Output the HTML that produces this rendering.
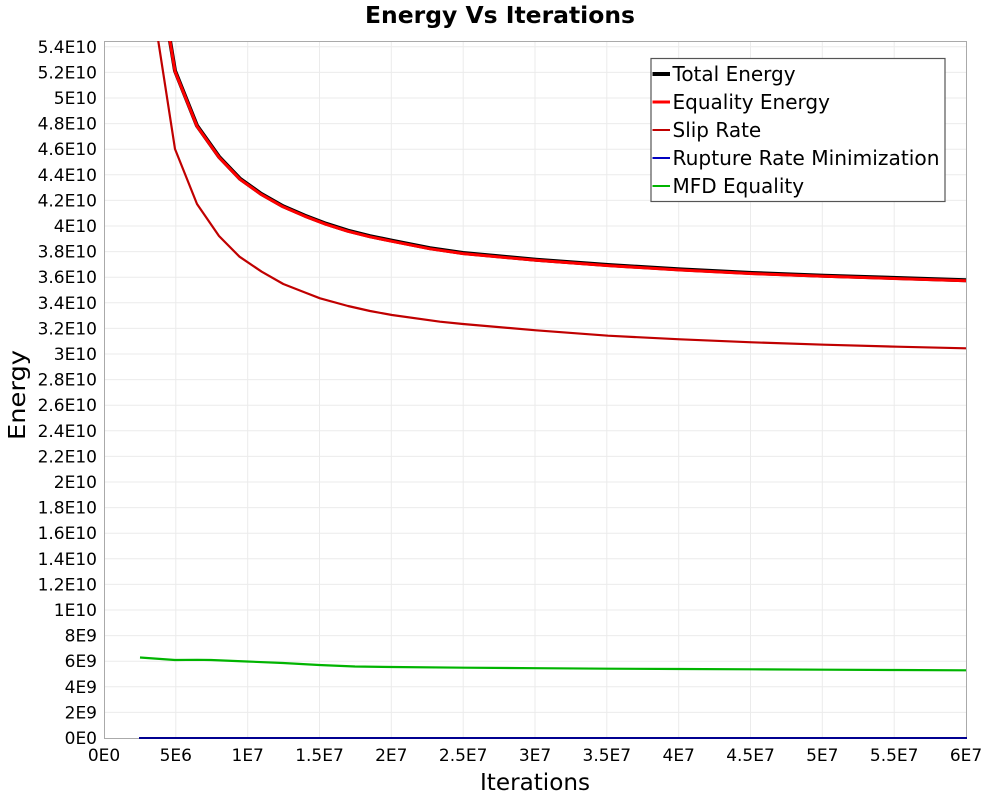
<!DOCTYPE html>
<html><head><meta charset="utf-8"><style>
html,body{margin:0;padding:0;background:#fff;}
svg{display:block;font-family:"DejaVu Sans","Liberation Sans",sans-serif;}
</style></head><body>
<svg width="1000" height="800" viewBox="0 0 1000 800" xmlns="http://www.w3.org/2000/svg">
<rect x="0" y="0" width="1000" height="800" fill="#fff"/>
<text x="500" y="23" font-size="23.5" font-weight="bold" text-anchor="middle" textLength="270" lengthAdjust="spacingAndGlyphs">Energy Vs Iterations</text>
<defs><clipPath id="pc"><rect x="104" y="41" width="863" height="699"/></clipPath></defs>
<g stroke="#ebebeb" stroke-width="1">
<line x1="104" x2="967" y1="712.4" y2="712.4"/><line x1="104" x2="967" y1="686.8" y2="686.8"/><line x1="104" x2="967" y1="661.2" y2="661.2"/><line x1="104" x2="967" y1="635.6" y2="635.6"/><line x1="104" x2="967" y1="610" y2="610"/><line x1="104" x2="967" y1="584.4" y2="584.4"/><line x1="104" x2="967" y1="558.8" y2="558.8"/><line x1="104" x2="967" y1="533.2" y2="533.2"/><line x1="104" x2="967" y1="507.6" y2="507.6"/><line x1="104" x2="967" y1="482" y2="482"/><line x1="104" x2="967" y1="456.4" y2="456.4"/><line x1="104" x2="967" y1="430.8" y2="430.8"/><line x1="104" x2="967" y1="405.2" y2="405.2"/><line x1="104" x2="967" y1="379.6" y2="379.6"/><line x1="104" x2="967" y1="354" y2="354"/><line x1="104" x2="967" y1="328.4" y2="328.4"/><line x1="104" x2="967" y1="302.8" y2="302.8"/><line x1="104" x2="967" y1="277.2" y2="277.2"/><line x1="104" x2="967" y1="251.6" y2="251.6"/><line x1="104" x2="967" y1="226" y2="226"/><line x1="104" x2="967" y1="200.4" y2="200.4"/><line x1="104" x2="967" y1="174.8" y2="174.8"/><line x1="104" x2="967" y1="149.2" y2="149.2"/><line x1="104" x2="967" y1="123.6" y2="123.6"/><line x1="104" x2="967" y1="98" y2="98"/><line x1="104" x2="967" y1="72.4" y2="72.4"/><line x1="104" x2="967" y1="46.8" y2="46.8"/>
<line y1="41" y2="738" x1="175.8" x2="175.8"/><line y1="41" y2="738" x1="247.7" x2="247.7"/><line y1="41" y2="738" x1="319.5" x2="319.5"/><line y1="41" y2="738" x1="391.3" x2="391.3"/><line y1="41" y2="738" x1="463.2" x2="463.2"/><line y1="41" y2="738" x1="535" x2="535"/><line y1="41" y2="738" x1="606.8" x2="606.8"/><line y1="41" y2="738" x1="678.7" x2="678.7"/><line y1="41" y2="738" x1="750.5" x2="750.5"/><line y1="41" y2="738" x1="822.3" x2="822.3"/><line y1="41" y2="738" x1="894.2" x2="894.2"/>
</g>
<rect x="104.5" y="41.5" width="862" height="697" fill="none" stroke="#aaaaaa" stroke-width="1"/>
<g clip-path="url(#pc)" fill="none" stroke-linejoin="round">
<polyline stroke="#00b400" stroke-width="2.2" points="140,657.5 175,660 197,659.8 211,660 247,661.5 283,663 319,665 355,666.5 392,667 464,667.7 536,668.2 608,668.7 680,669 752,669.3 825,669.7 897,670 966,670.3"/>
<polyline stroke="#c00000" stroke-width="2.2" points="140,-77 175,149 197,204 219,236 239.5,256.7 261.7,271.7 283.3,284 305,292.5 320,298.3 348,306 370,311 392,315 440,321.7 463,324 536,330.3 608,335.7 680,339.3 752,342.3 824,344.7 897,346.7 966,348.3"/>
<polyline stroke="#000" stroke-width="4" transform="translate(0,-0.3)" points="140,-139 175,71 197,126 219,157 240,179 261,194 283,206.5 305,216 326,224 348,231 370,236.5 392,241 430,248.5 463,253.3 536,260 608,265.3 680,269.7 752,273.3 824,276 897,278.3 966,280.5"/>
<polyline stroke="#ff0000" stroke-width="3" transform="translate(0,0.3)" points="140,-139 175,71 197,126 219,157 240,179 261,194 283,206.5 305,216 326,224 348,231 370,236.5 392,241 430,248.5 463,253.3 536,260 608,265.3 680,269.7 752,273.3 824,276 897,278.3 966,280.5"/>
</g>
<line x1="139" x2="967" y1="738" y2="738" stroke="#000090" stroke-width="2"/>
<g font-size="17" text-anchor="end" fill="#000">
<text x="97" y="744">0E0</text><text x="97" y="718.4">2E9</text><text x="97" y="692.8">4E9</text><text x="97" y="667.2">6E9</text><text x="97" y="641.6">8E9</text><text x="97" y="616">1E10</text><text x="97" y="590.4">1.2E10</text><text x="97" y="564.8">1.4E10</text><text x="97" y="539.2">1.6E10</text><text x="97" y="513.6">1.8E10</text><text x="97" y="488">2E10</text><text x="97" y="462.4">2.2E10</text><text x="97" y="436.8">2.4E10</text><text x="97" y="411.2">2.6E10</text><text x="97" y="385.6">2.8E10</text><text x="97" y="360">3E10</text><text x="97" y="334.4">3.2E10</text><text x="97" y="308.8">3.4E10</text><text x="97" y="283.2">3.6E10</text><text x="97" y="257.6">3.8E10</text><text x="97" y="232">4E10</text><text x="97" y="206.4">4.2E10</text><text x="97" y="180.8">4.4E10</text><text x="97" y="155.2">4.6E10</text><text x="97" y="129.6">4.8E10</text><text x="97" y="104">5E10</text><text x="97" y="78.4">5.2E10</text><text x="97" y="52.8">5.4E10</text>
</g>
<g font-size="17" text-anchor="middle" fill="#000">
<text x="104" y="761">0E0</text><text x="175.8" y="761">5E6</text><text x="247.7" y="761">1E7</text><text x="319.5" y="761">1.5E7</text><text x="391.3" y="761">2E7</text><text x="463.2" y="761">2.5E7</text><text x="535" y="761">3E7</text><text x="606.8" y="761">3.5E7</text><text x="678.7" y="761">4E7</text><text x="750.5" y="761">4.5E7</text><text x="822.3" y="761">5E7</text><text x="894.2" y="761">5.5E7</text><text x="966" y="761">6E7</text>
</g>
<text x="535" y="790" font-size="23.5" text-anchor="middle" textLength="110" lengthAdjust="spacingAndGlyphs">Iterations</text>
<text transform="translate(25,395) rotate(-90)" x="0" y="0" font-size="23.5" text-anchor="middle" textLength="90" lengthAdjust="spacingAndGlyphs">Energy</text>
<rect x="651" y="58.5" width="294" height="143" fill="#fff" stroke="#555" stroke-width="1.2"/>
<line x1="652.5" x2="670" y1="74" y2="74" stroke="#000" stroke-width="4"/>
<line x1="652.5" x2="670" y1="102" y2="102" stroke="#ff0000" stroke-width="3"/>
<line x1="652.5" x2="670" y1="130" y2="130" stroke="#c00000" stroke-width="2"/>
<line x1="652.5" x2="670" y1="158" y2="158" stroke="#0000c0" stroke-width="2"/>
<line x1="652.5" x2="670" y1="186" y2="186" stroke="#00b400" stroke-width="2"/>
<g font-size="20" fill="#000">
<text x="672.5" y="81">Total Energy</text>
<text x="672.5" y="109">Equality Energy</text>
<text x="672.5" y="137">Slip Rate</text>
<text x="672.5" y="165" textLength="267" lengthAdjust="spacingAndGlyphs">Rupture Rate Minimization</text>
<text x="672.5" y="193">MFD Equality</text>
</g>
</svg>
</body></html>
